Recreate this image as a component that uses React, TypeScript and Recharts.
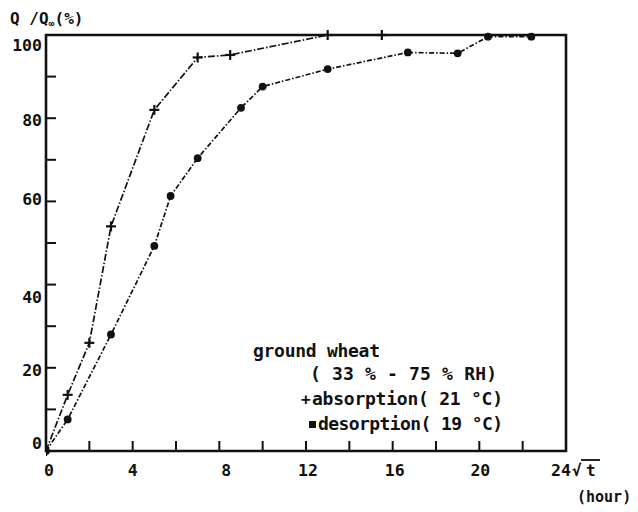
import React from 'react';
import { ComposedChart, Line, XAxis, YAxis, ReferenceArea, Customized } from 'recharts';

// Sorption kinetics of ground wheat: fraction of equilibrium uptake vs sqrt(time)
const absorptionX = [0, 1, 2, 3, 5, 7, 8.5, 13, 15.5];
const absorptionY = [0, 13.5, 26, 54, 82, 94.6, 95.2, 100, 100];

const desorptionX = [0, 1, 3, 5, 5.75, 7, 9, 10, 13, 16.7, 19, 20.4, 22.4];
const desorptionY = [0, 7.6, 28, 49.3, 61.3, 70.4, 82.5, 87.6, 91.8, 95.8, 95.6, 99.6, 99.6];

const xTicks = [0, 2, 4, 6, 8, 10, 12, 14, 16, 18, 20, 22, 24];
const xTickLabels = ['0', '4', '8', '12', '16', '20', '24'];
const yTicks = [0, 10, 20, 30, 40, 50, 60, 70, 80, 90, 100];
const yTickLabels = ['0', '20', '40', '60', '80', '100'];
const rightTicks = [10, 20, 30, 40, 50, 60, 70, 80, 90];

const absorption = absorptionX.map((x, i) => ({ x, y: absorptionY[i] }));
const desorption = desorptionX.map((x, i) => ({ x, y: desorptionY[i] }));

const FONT = '"DejaVu Sans Mono", "Liberation Mono", monospace';
const INK = '#111';

// small hand-placement nudges of the printed tick numbers
const yLabelShift: Record<string, number> = { '100': 10, '80': 2, '60': -2, '40': 12, '20': 2, '0': -8 };
const xLabelShift: Record<string, number> = { '0': 3, '4': 0, '8': 7, '12': 2, '16': 2, '20': 1, '24': -5 };

const LeftTick = (props: any) => {
  const { x, y, payload } = props;
  const label = String(payload.value);
  const show = yTickLabels.includes(label);
  return (
    <g>
      <line x1={x} x2={x + 10} y1={y} y2={y} stroke={INK} strokeWidth={2} />
      {show && (
        <text x={x - 4} y={y + 6 + (yLabelShift[label] || 0)} textAnchor="end"
          fontFamily={FONT} fontWeight="bold" fontSize={16.5} fill={INK}>
          {label}
        </text>
      )}
    </g>
  );
};

const RightTick = (props: any) => {
  const { x, y } = props;
  return <line x1={x} x2={x - 10} y1={y} y2={y} stroke={INK} strokeWidth={2} />;
};

const BottomTick = (props: any) => {
  const { x, y, payload } = props;
  const label = String(payload.value);
  const show = xTickLabels.includes(label);
  return (
    <g>
      <line x1={x} x2={x} y1={y} y2={y - 10} stroke={INK} strokeWidth={2} />
      {show && (
        <text x={x + (xLabelShift[label] || 0)} y={y + 25} textAnchor="middle"
          fontFamily={FONT} fontWeight="bold" fontSize={16.5} fill={INK}>
          {label}
        </text>
      )}
    </g>
  );
};

const PlusDot = (props: any) => {
  const { cx, cy } = props;
  if (cx == null || cy == null) return null;
  return (
    <g>
      <line x1={cx - 5} x2={cx + 5} y1={cy} y2={cy} stroke={INK} strokeWidth={2.2} />
      <line x1={cx} x2={cx} y1={cy - 5} y2={cy + 5} stroke={INK} strokeWidth={2.2} />
    </g>
  );
};

const RoundDot = (props: any) => {
  const { cx, cy } = props;
  if (cx == null || cy == null) return null;
  return <circle cx={cx} cy={cy} r={3.9} fill={INK} />;
};

const Annotations = () => (
  <g fontFamily={FONT} fontWeight="bold" fill={INK}>
    <text x={10} y={24} fontSize={16}>
      Q /Q
      <tspan fontSize={10} dy={3}>∞</tspan>
      <tspan dy={-3}>(%)</tspan>
    </text>
    <text x={572} y={476} fontSize={16}>√</text>
    <line x1={581} x2={600} y1={460} y2={460} stroke={INK} strokeWidth={1.8} />
    <text x={586} y={476} fontSize={16}>t</text>
    <text x={577} y={502} fontSize={15}>(hour)</text>

    <text x={253} y={357} fontSize={18} textLength={127} lengthAdjust="spacing">ground wheat</text>
    <text x={310} y={380} fontSize={18} textLength={187} lengthAdjust="spacing">( 33 % - 75 % RH)</text>
    <text x={301} y={405} fontSize={16}>+</text>
    <text x={312} y={405} fontSize={18} textLength={191} lengthAdjust="spacing">absorption( 21 °C)</text>
    <rect x={309} y={421} width={7} height={7} fill={INK} />
    <text x={318} y={430} fontSize={18} textLength={185} lengthAdjust="spacing">desorption( 19 °C)</text>
  </g>
);

export default function App() {
  return (
    <div style={{ position: 'absolute', left: 0, top: 0, background: '#fff' }}>
      <ComposedChart width={638} height={512} margin={{ top: 35, right: 71, bottom: 0, left: 0 }}>
        <XAxis dataKey="x" type="number" domain={[0, 24]} ticks={xTicks} interval={0}
          height={61} axisLine={false} tickLine={false} tickSize={0} tickMargin={0}
          tick={<BottomTick />} allowDataOverflow />
        <YAxis yAxisId="left" type="number" domain={[0, 100]} ticks={yTicks} interval={0}
          width={46} axisLine={false} tickLine={false} tickSize={0} tickMargin={0}
          tick={<LeftTick />} />
        <YAxis yAxisId="right" orientation="right" type="number" domain={[0, 100]} ticks={rightTicks}
          interval={0} width={1} axisLine={false} tickLine={false} tickSize={0} tickMargin={0}
          tick={<RightTick />} />
        <ReferenceArea yAxisId="left" x1={0} x2={24} y1={0} y2={100} fill="none"
          stroke={INK} strokeWidth={2.6} ifOverflow="visible" />
        <Line yAxisId="left" data={absorption} dataKey="y" type="linear" stroke={INK}
          strokeWidth={1.7} strokeDasharray="7 2 1.5 2" dot={<PlusDot />} activeDot={false}
          isAnimationActive={false} />
        <Line yAxisId="left" data={desorption} dataKey="y" type="linear" stroke={INK}
          strokeWidth={1.7} strokeDasharray="5 2 1.5 2" dot={<RoundDot />} activeDot={false}
          isAnimationActive={false} />
        <Customized component={Annotations} />
      </ComposedChart>
    </div>
  );
}
